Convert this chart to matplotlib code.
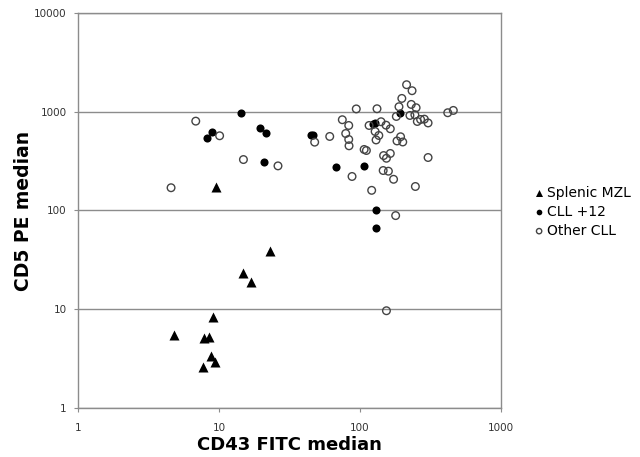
import matplotlib
matplotlib.use('Agg')
import matplotlib.pyplot as plt
from matplotlib.ticker import FixedLocator, FixedFormatter, NullLocator

# Splenic MZL (triangles)
mzl_x = [9.48, 23.0, 14.8, 16.9, 9.11, 4.80, 7.83, 8.49, 8.73, 9.32, 7.66]
mzl_y = [172, 38.6, 23.3, 19.0, 8.26, 5.55, 5.08, 5.26, 3.40, 2.89, 2.61]

# CLL +12 (filled circles)
t12_x = [14.3, 8.96, 8.18, 19.6, 21.4, 20.8, 191, 123, 128, 44.6, 46.7, 67.2, 107, 130, 130]
t12_y = [961, 627, 536, 677, 607, 311, 972, 756, 773, 579, 584, 277, 285, 101, 66.6]

# Other CLL (open circles)
oth_x = [6.84, 10.1, 14.9, 26.2, 4.57, 214, 234, 198, 231, 250, 189, 94.1, 132, 419, 459,
         226, 245, 181, 74.9, 83.2, 116, 141, 153, 164, 255, 269, 286, 304, 128, 79.2,
         136, 61.0, 83.2, 47.7, 130, 194, 183, 201, 83.6, 107, 111, 147, 164, 154, 304,
         146, 159, 87.8, 173, 247, 121, 179, 154]
oth_y = [803, 571, 328, 283, 170, 1878, 1633, 1364, 1186, 1098, 1124, 1068, 1072, 977, 1031,
         917, 932, 896, 830, 726, 726, 792, 731, 672, 797, 835, 841, 770, 631, 602,
         575, 562, 524, 492, 518, 558, 506, 494, 452, 415, 405, 360, 378, 338, 344,
         254, 250, 221, 207, 175, 160, 88.8, 9.66]

x_ticks = [1, 10, 100, 1000]
y_ticks = [1, 10, 100, 1000, 10000]

fig = plt.figure(figsize=(6.4, 4.57), dpi=100)
ax = fig.add_axes([0.1219, 0.1072, 0.6609, 0.8644])
ax.set_xscale('log'); ax.set_yscale('log')
ax.set_xlim(1, 1000); ax.set_ylim(1, 10000)

ax.scatter(mzl_x, mzl_y, marker='^', s=52, c='black', linewidths=0, label='Splenic MZL', zorder=3)
ax.scatter(t12_x, t12_y, marker='o', s=34, c='black', linewidths=0, label='CLL +12', zorder=3)
ax.scatter(oth_x, oth_y, marker='o', s=30, facecolors='none', edgecolors='#444444',
           linewidths=1.0, label='Other CLL', zorder=3)

gray = '#8c8c8c'
ax.xaxis.set_major_locator(FixedLocator(x_ticks))
ax.xaxis.set_major_formatter(FixedFormatter([str(v) for v in x_ticks]))
ax.yaxis.set_major_locator(FixedLocator(y_ticks))
ax.yaxis.set_major_formatter(FixedFormatter([str(v) for v in y_ticks]))
ax.xaxis.set_minor_locator(NullLocator()); ax.yaxis.set_minor_locator(NullLocator())
ax.grid(True, axis='y', color=gray, lw=1.0)
ax.set_axisbelow(True)
for s in ax.spines.values():
    s.set_color(gray); s.set_linewidth(1.0)
ax.tick_params(axis='both', length=3, color=gray, labelsize=7.5, labelcolor='#333333', pad=5)
ax.tick_params(axis='x', pad=8)

ax.set_xlabel('CD43 FITC median', fontsize=13, fontweight='bold', labelpad=2)
ax.set_ylabel('CD5 PE median', fontsize=13.5, fontweight='bold', labelpad=1)

fig.legend(loc='upper left', bbox_to_anchor=(0.825, 0.605), frameon=False, fontsize=10,
           markerscale=0.7, handletextpad=0.2, handlelength=0.8, labelspacing=0.35,
           borderaxespad=0)

fig.savefig('out.png', dpi=100)
